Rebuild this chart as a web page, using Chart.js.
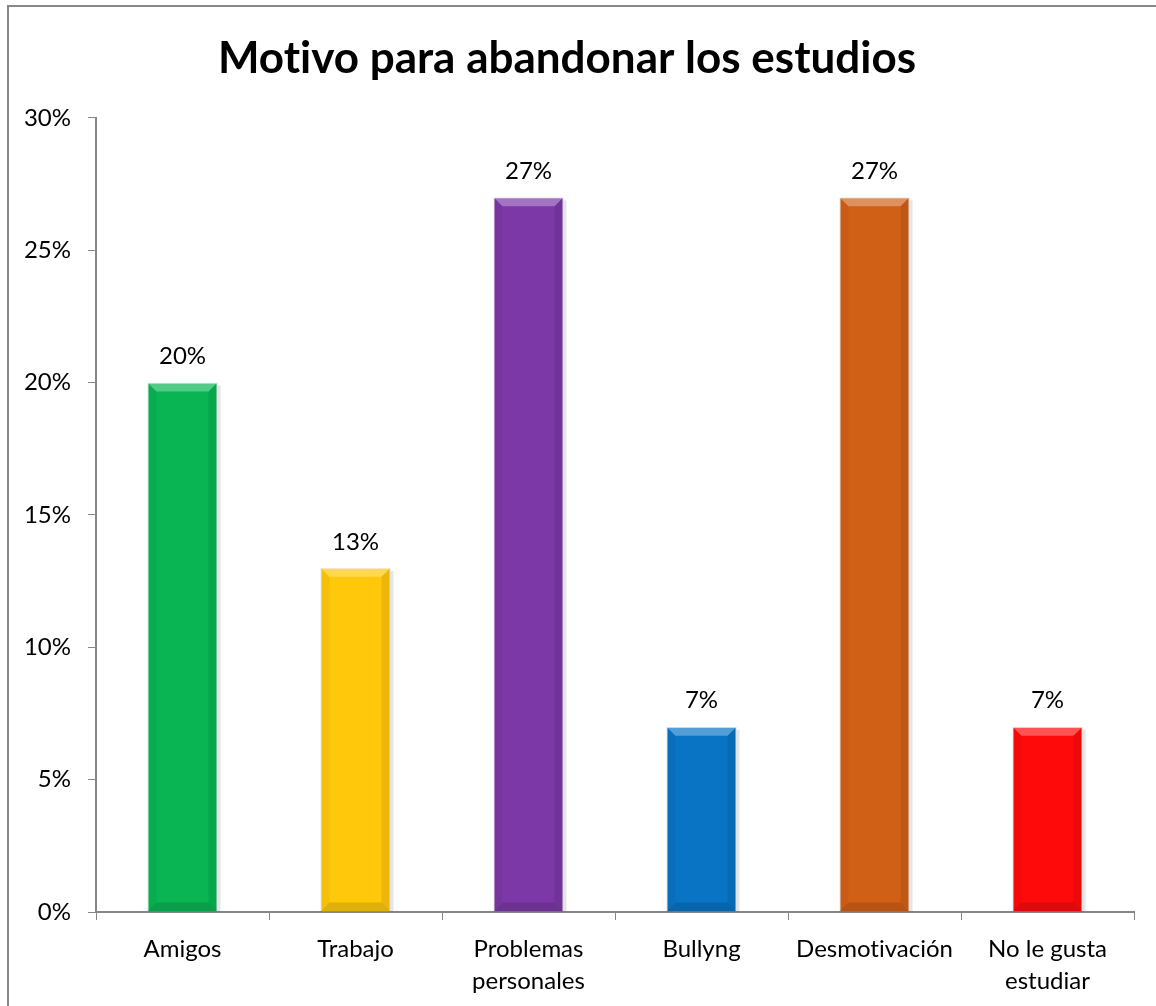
<!DOCTYPE html>
<html>
<head>
<meta charset="utf-8">
<script src="https://cdn.jsdelivr.net/npm/chart.js@4.4.1/dist/chart.umd.min.js"></script>
<style>
  html, body { margin: 0; padding: 0; background: #fff; }
  #wrap { width: 1156px; height: 1006px; position: relative; }
</style>
</head>
<body>
<div id="wrap"><canvas id="motivoChart" width="1156" height="1006"></canvas></div>
<script>
// datos
const categorias = [
  'Amigos',
  'Trabajo',
  ['Problemas', 'personales'],
  'Bullyng',
  'Desmotivación',
  ['No le gusta', 'estudiar']
];
const porcentajes = [20, 13, 27, 7, 27, 7];
const colores = ['#08B552', '#FFC80A', '#7B38A6', '#0A74C4', '#D16017', '#FF0A0A'];
const ticksY = [0, 5, 10, 15, 20, 25, 30];

const FONT = 'Lato, Calibri, "Open Sans", sans-serif';

// marco gris del grafico + sin ligaduras (Lato une "ti")
const marco = {
  id: 'marco',
  beforeDraw(chart) {
    chart.ctx.textRendering = 'optimizeSpeed';
  },
  afterDraw(chart) {
    const ctx = chart.ctx;
    ctx.save();
    ctx.strokeStyle = '#888888';
    ctx.lineWidth = 2;
    ctx.beginPath();
    ctx.moveTo(8, 1006);
    ctx.lineTo(8, 6);
    ctx.lineTo(1156, 6);
    ctx.stroke();
    ctx.restore();
  }
};

// efecto bisel de Excel sobre cada barra
const bisel = {
  id: 'bisel',
  afterDatasetsDraw(chart) {
    const ctx = chart.ctx;
    const meta = chart.getDatasetMeta(0);
    meta.data.forEach((bar) => {
      const p = bar.getProps(['x', 'y', 'base', 'width'], true);
      const l = p.x - p.width / 2, r = p.x + p.width / 2;
      const t = p.y, b = p.base;
      const bv = 9;
      ctx.save();
      // arriba, mas claro
      ctx.fillStyle = 'rgba(255,255,255,0.3)';
      ctx.beginPath();
      ctx.moveTo(l, t); ctx.lineTo(r, t); ctx.lineTo(r - bv, t + bv); ctx.lineTo(l + bv, t + bv);
      ctx.closePath(); ctx.fill();
      // laterales
      ctx.fillStyle = 'rgba(0,0,0,0.04)';
      ctx.beginPath();
      ctx.moveTo(l, t); ctx.lineTo(l + bv, t + bv); ctx.lineTo(l + bv, b - bv); ctx.lineTo(l, b);
      ctx.closePath(); ctx.fill();
      ctx.fillStyle = 'rgba(0,0,0,0.08)';
      ctx.beginPath();
      ctx.moveTo(r, t); ctx.lineTo(r - bv, t + bv); ctx.lineTo(r - bv, b - bv); ctx.lineTo(r, b);
      ctx.closePath(); ctx.fill();
      // abajo
      ctx.fillStyle = 'rgba(0,0,0,0.12)';
      ctx.beginPath();
      ctx.moveTo(l, b); ctx.lineTo(l + bv, b - bv); ctx.lineTo(r - bv, b - bv); ctx.lineTo(r, b);
      ctx.closePath(); ctx.fill();
      // sombra derecha
      ctx.fillStyle = 'rgba(0,0,0,0.10)';
      ctx.fillRect(r, t + 3, 3, b - t - 3);
      ctx.restore();
    });
  }
};

// etiquetas de valor encima de las barras
const etiquetas = {
  id: 'etiquetas',
  afterDatasetsDraw(chart) {
    const ctx = chart.ctx;
    const meta = chart.getDatasetMeta(0);
    ctx.save();
    ctx.font = '24px ' + FONT;
    ctx.fillStyle = '#000';
    ctx.textAlign = 'center';
    ctx.textBaseline = 'middle';
    meta.data.forEach((bar, i) => {
      ctx.fillText(porcentajes[i] + '%', bar.x, bar.y - 26);
    });
    ctx.restore();
  }
};

new Chart(document.getElementById('motivoChart').getContext('2d'), {
  type: 'bar',
  data: {
    labels: categorias,
    datasets: [{
      data: porcentajes,
      backgroundColor: colores,
      borderColor: 'rgba(0,0,0,0.12)',
      borderWidth: 1,
      barPercentage: 0.405,
      categoryPercentage: 1
    }]
  },
  options: {
    responsive: false,
    animation: false,
    layout: { padding: { left: 0, right: 22, top: 0, bottom: 0 } },
    plugins: {
      legend: { display: false },
      tooltip: { enabled: false },
      title: {
        display: true,
        text: 'Motivo para abandonar los estudios',
        color: '#000',
        font: { family: FONT, size: 44, weight: 'bold', lineHeight: 1.2 },
        padding: { top: 32, bottom: 33 }
      }
    },
    scales: {
      x: {
        grid: { drawOnChartArea: false, drawTicks: true, tickLength: 8, color: '#868686', offset: true },
        border: { color: '#868686', width: 2 },
        ticks: { color: '#000', font: { family: FONT, size: 24, lineHeight: 1.33 }, padding: 13, maxRotation: 0, autoSkip: false },
        afterFit(scale) { scale.height = 94; }
      },
      y: {
        min: 0,
        max: 30,
        afterBuildTicks(scale) { scale.ticks = ticksY.map(v => ({ value: v })); },
        grid: { drawOnChartArea: false, drawTicks: true, tickLength: 8, color: '#868686' },
        border: { color: '#868686', width: 2 },
        ticks: { color: '#000', font: { family: FONT, size: 24 }, padding: 17, callback: v => v + '%' },
        afterFit(scale) { scale.width = 96; }
      }
    }
  },
  plugins: [marco, bisel, etiquetas]
});
</script>
</body>
</html>
